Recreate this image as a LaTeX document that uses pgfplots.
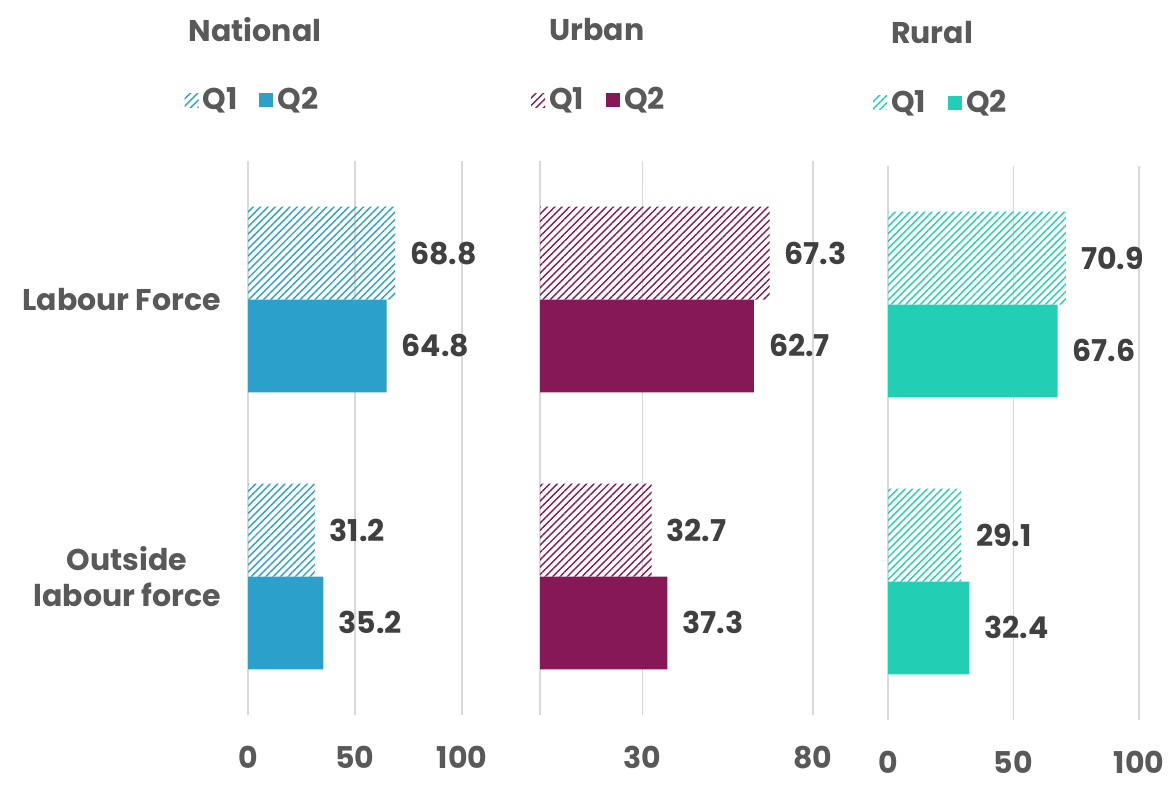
\documentclass[border=0pt]{standalone}
\usepackage{pgfplots}
\pgfplotsset{compat=1.18}
\usepackage{fontspec}
\setmainfont{Poppins}
\usetikzlibrary{patterns.meta}

\definecolor{nat}{HTML}{2AA0CB}
\definecolor{urb}{HTML}{861955}
\definecolor{rur}{HTML}{22CFB5}
\definecolor{labc}{HTML}{595959}
\definecolor{valc}{HTML}{404040}
\definecolor{gridc}{HTML}{D9D9D9}

\newcommand\bigfont{\fontsize{15}{18}\selectfont}

\pgfplotsset{
  panel/.style={
    xbar, scale only axis, height=277pt,
    anchor=south west,
    ymin=-0.5, ymax=1.5, ytick={0,1}, yticklabels={},
    bar width=0.335,
    axis line style={draw=none},
    major tick length=0,
    xmajorgrids, ymajorgrids=false,
    grid style={draw=gridc, line width=0.8pt},
    clip=false,
    tick label style={font=\bfseries\bigfont, text=labc},
    xticklabel style={yshift=-12pt},
    /pgf/number format/assume math mode=true,
    legend columns=2,
    legend style={draw=none, fill=none, anchor=center, font=\bfseries\bigfont, text=labc,
      /tikz/every even column/.append style={column sep=9pt}},
    nodes near coords={\pgfmathprintnumber[fixed,fixed zerofill,precision=1,assume math mode=true]{\pgfplotspointmeta}},
    every node near coord/.append style={font=\bfseries\bigfont, text=valc, xshift=4pt},
  },
  q1/.style={draw=none, pattern={Lines[angle=45,distance=2.6pt,line width=0.7pt]}, pattern color=#1,
    bar shift=0.1675,
    legend image code/.code={\path[##1] (0pt,-3.5pt) rectangle (7pt,3.5pt);}},
  q2/.style={draw=none, fill=#1, bar shift=-0.1675,
    legend image code/.code={\path[##1] (0pt,-3.5pt) rectangle (7pt,3.5pt);}},
}

\begin{document}
\begin{tikzpicture}
\path[use as bounding box] (0,0) rectangle (586.5pt,-395.5pt);

% National
\begin{axis}[panel, at={(124pt,-357.5pt)}, width=107pt,
  xmin=0, xmax=100, xtick={0,50,100},
  yticklabels={Outside\\labour force, Labour Force},
  yticklabel style={align=center, xshift=-10pt},
  legend style={at={(0.025,1.110)}}]
\addplot[q1=nat] coordinates {(68.8,1) (31.2,0)};
\addlegendentry{Q1}
\addplot[q2=nat] coordinates {(64.8,1) (35.2,0)};
\addlegendentry{Q2}
\end{axis}

% Urban
\begin{axis}[panel, at={(270pt,-357.5pt)}, width=136.5pt,
  xmin=0, xmax=80, xtick={0,30,80}, xticklabels={,30,80},
  legend style={at={(0.22,1.110)}}]
\addplot[q1=urb] coordinates {(67.3,1) (32.7,0)};
\addlegendentry{Q1}
\addplot[q2=urb] coordinates {(62.7,1) (37.3,0)};
\addlegendentry{Q2}
\end{axis}

% Rural
\begin{axis}[panel, at={(444pt,-360pt)}, width=125.5pt,
  xmin=0, xmax=100, xtick={0,50,100},
  legend style={at={(0.215,1.114)}}]
\addplot[q1=rur] coordinates {(70.9,1) (29.1,0)};
\addlegendentry{Q1}
\addplot[q2=rur] coordinates {(67.6,1) (32.4,0)};
\addlegendentry{Q2}
\end{axis}

\node[font=\bfseries\bigfont, text=labc] at (127.5pt,-15pt) {National};
\node[font=\bfseries\bigfont, text=labc] at (298.5pt,-15pt) {Urban};
\node[font=\bfseries\bigfont, text=labc] at (466pt,-16.5pt) {Rural};
\end{tikzpicture}
\end{document}
